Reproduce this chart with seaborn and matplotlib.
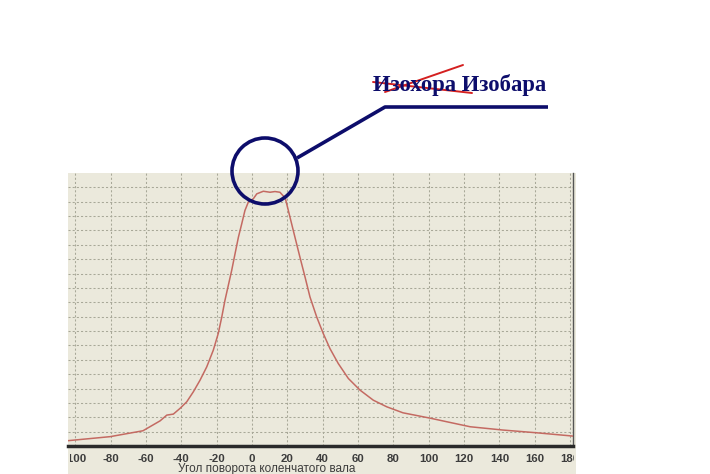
import matplotlib
matplotlib.use("Agg")
import matplotlib.pyplot as plt
import seaborn as sns
import pandas as pd
from matplotlib.patches import Circle, Rectangle

# angle of crankshaft rotation vs value
angle = [-104.1, -80.3, -61.7, -52.0, -48.2, -44.5, -40.7, -36.9, -33.2, -29.4, -25.6, -21.9,
         -19.1, -17.1, -15.3, -13.4, -11.5, -9.6, -7.7, -5.8, -4.0, -2.1, 0.7, 2.7, 6.4,
         10.2, 13.0, 15.8, 17.5, 18.7, 21.5, 24.3, 27.1, 30.0, 32.8, 36.6, 40.3, 44.1,
         48.8, 54.5, 61.1, 68.6, 76.2, 85.4, 100.7, 110.1, 123.4, 142.0, 161.0, 181.6]
value = [0.37, 0.65, 1.06, 1.75, 2.15, 2.22, 2.62, 3.08, 3.77, 4.58, 5.51, 6.67,
         7.83, 8.98, 10.14, 11.18, 12.22, 13.38, 14.53, 15.47, 16.39, 16.97, 17.20, 17.55, 17.73,
         17.66, 17.71, 17.66, 17.43, 17.31, 15.92, 14.53, 13.15, 11.76, 10.37, 8.98, 7.83, 6.78,
         5.74, 4.70, 3.89, 3.19, 2.73, 2.31, 1.94, 1.69, 1.34, 1.11, 0.92, 0.69]
xticks = list(range(-100, 181, 20))
xlabel = "Угол поворота коленчатого вала"
title_old = "Изохора"
title_new = "Изобара"

BEIGE = "#ebe9dc"
NAVY = "#0d0d6b"
W, H = 710, 474
NARROW = ["Liberation Sans Narrow", "Liberation Sans", "DejaVu Sans"]

sns.set_style("white")
fig = plt.figure(figsize=(W / 100, H / 100), dpi=100)
fig.patch.set_facecolor("white")

# beige panel behind plot + labels (screenshot area)
fig.patches.append(Rectangle((68 / W, 0), (576 - 68) / W, (H - 173) / H,
                             transform=fig.transFigure, facecolor=BEIGE, edgecolor="none", zorder=-5))

ax = fig.add_axes([68 / W, (H - 446) / H, (573 - 68) / W, (446 - 173) / H])
ax.set_facecolor(BEIGE)
df = pd.DataFrame({"angle": angle, "value": value})
sns.lineplot(data=df, x="angle", y="value", ax=ax, color="#c46a62", lw=1.1, zorder=3)

ax.set_xlim(-104.1, 181.6)
ax.set_ylim(0, 19)
ax.set_xticks(xticks)
ax.set_xticklabels([str(t) for t in xticks], fontweight="bold", fontsize=8.2, color="#3c3c3c",
                   family=NARROW)
ax.set_yticks(range(1, 19))
ax.set_yticklabels([])
ax.tick_params(axis="x", direction="in", length=4, color="#a8a898", pad=6)
ax.tick_params(axis="y", length=0)
ax.grid(True, color="#a8a898", ls=(0, (2, 2)), lw=0.75)
ax.set_xlabel("")
ax.set_ylabel("")
for s in ["left", "top"]:
    ax.spines[s].set_visible(False)
ax.spines["bottom"].set_color("#2a2a2a")
ax.spines["bottom"].set_linewidth(2.5)
ax.spines["right"].set_color("#555555")
ax.spines["right"].set_linestyle((0, (1, 1)))
ax.spines["right"].set_linewidth(1)

# clip tick labels to screenshot area
clip = Rectangle((70 / W, 0), (574 - 70) / W, 1, transform=fig.transFigure)
for lab in ax.get_xticklabels():
    lab.set_clip_on(True)
    lab.set_clip_path(clip)

fig.text(178 / W, (H - 463) / H, xlabel, fontsize=8.5, color="#3c3c3c", va="top", ha="left",
         family=NARROW)

# overlay annotation in pixel coords
ov = fig.add_axes([0, 0, 1, 1])
ov.set_xlim(0, W)
ov.set_ylim(H, 0)
ov.axis("off")
ov.patch.set_alpha(0)
ov.add_patch(Circle((265, 171), 33, fill=False, ec=NAVY, lw=2.6, zorder=5))
ov.plot([297, 385, 548], [158, 107, 107], color=NAVY, lw=2.6, solid_capstyle="butt")
ov.text(373, 91, f"{title_old} {title_new}", fontsize=16.3, fontweight="bold", color=NAVY,
        family=["Liberation Serif", "DejaVu Serif"], ha="left", va="baseline")
ov.plot([373, 472], [82, 93], color="#d42020", lw=1.4)
ov.plot([385, 463], [92, 65], color="#d42020", lw=1.4)

fig.savefig("out.png", dpi=100)
